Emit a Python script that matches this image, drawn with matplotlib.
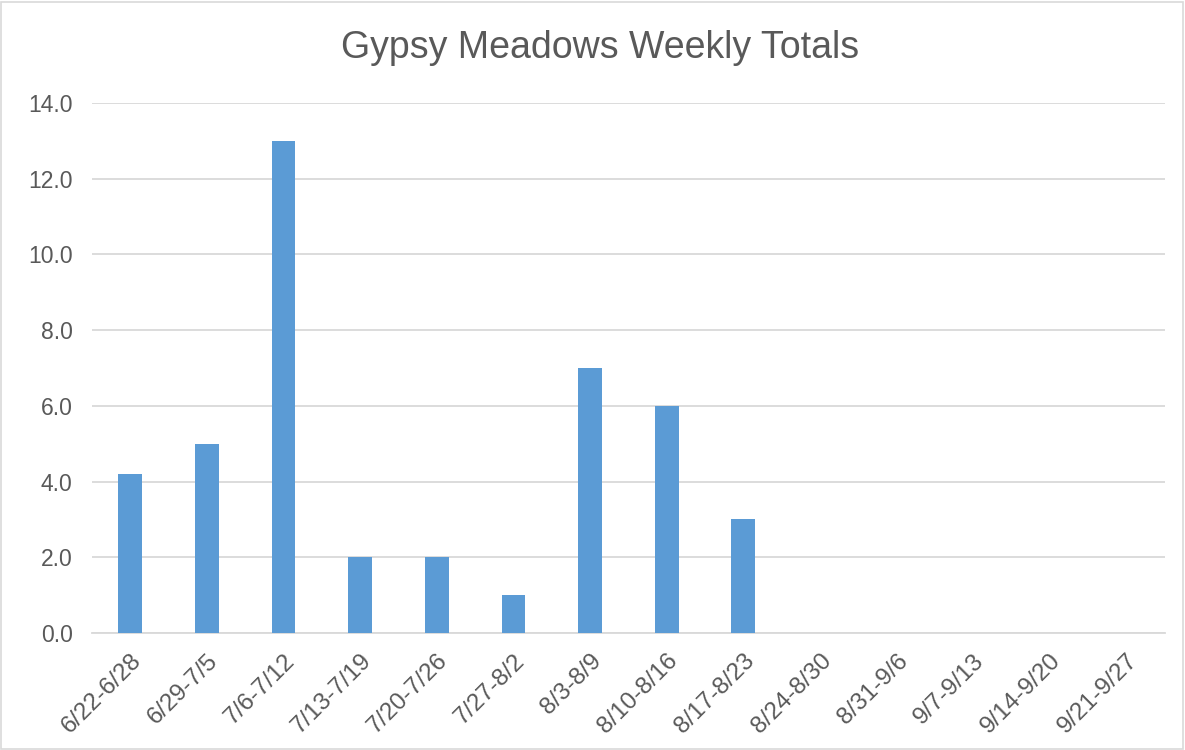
import numpy as np
import matplotlib
matplotlib.use("Agg")
import matplotlib.pyplot as plt
from matplotlib.patches import Rectangle

weeks = ['6/22-6/28', '6/29-7/5', '7/6-7/12', '7/13-7/19', '7/20-7/26', '7/27-8/2',
         '8/3-8/9', '8/10-8/16', '8/17-8/23', '8/24-8/30', '8/31-9/6', '9/7-9/13',
         '9/14-9/20', '9/21-9/27']
totals = [4.2, 5, 13, 2, 2, 1, 7, 6, 3, 0, 0, 0, 0, 0]
yticks = [0, 2, 4, 6, 8, 10, 12, 14]

plt.rcParams['font.family'] = ['Liberation Sans', 'DejaVu Sans']
txt = '#595959'
grid = '#D9D9D9'

fig = plt.figure(figsize=(11.85, 7.5), dpi=100)
ax = fig.add_axes([0.0776, 0.156, 0.9054, 0.7067])

x = np.arange(len(weeks))
ax.bar(x, totals, width=0.31, color='#5B9BD5', zorder=3)

ax.set_xlim(-0.5, len(weeks) - 0.5)
ax.set_ylim(0, 14)
ax.set_yticks(yticks)
ax.set_yticklabels(['%.1f' % v for v in yticks], fontsize=16.5, color=txt)
ax.set_xticks(x)
ax.set_xticklabels(weeks, rotation=45, ha='right', rotation_mode='anchor',
                   fontsize=17.5, color=txt)
ax.tick_params(axis='y', length=0, pad=14)
ax.tick_params(axis='x', length=0, pad=12)
ax.grid(axis='y', color=grid, linewidth=1.3, zorder=0)
for s in ['top', 'right', 'left']:
    ax.spines[s].set_visible(False)
ax.spines['bottom'].set_color(grid)
ax.spines['bottom'].set_linewidth(1.3)

fig.text(600 / 1185, 1 - 48 / 750, 'Gypsy Meadows Weekly Totals', fontsize=27,
         color=txt, ha='center', va='center')

fig.patches.append(Rectangle((0.001, 0.002), 0.997, 0.996, transform=fig.transFigure,
                             fill=False, edgecolor=grid, linewidth=1.2))

fig.savefig('out.png', dpi=100)
